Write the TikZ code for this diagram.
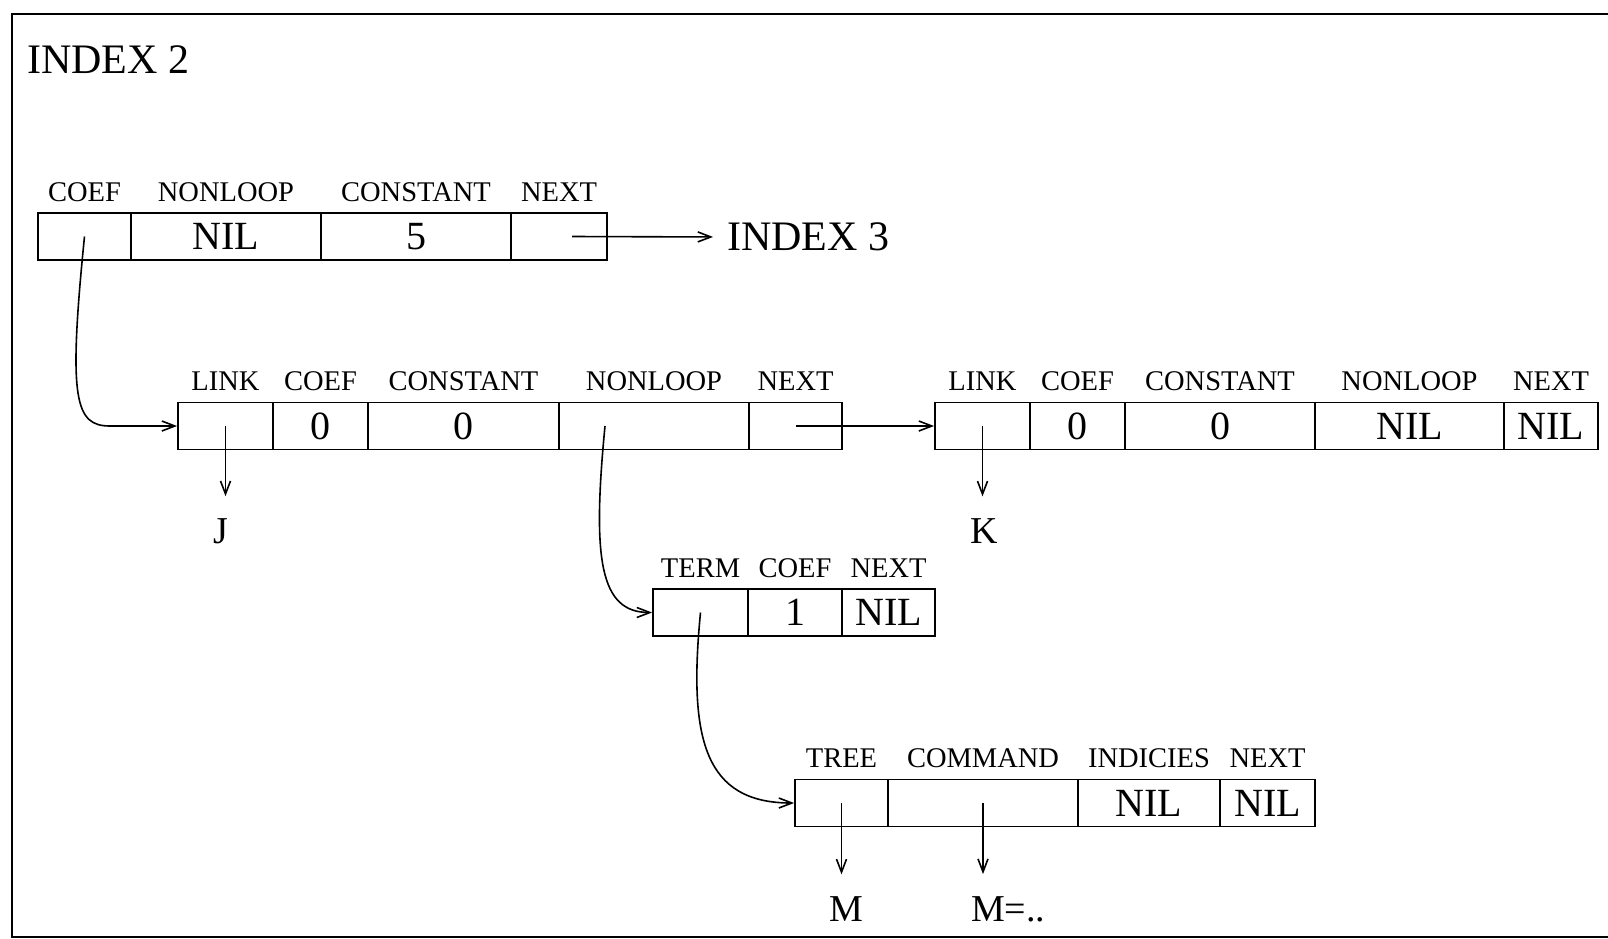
\documentclass[tikz,border=0pt]{standalone}
\usepackage{fontspec}
\setmainfont{Liberation Serif}
\usetikzlibrary{arrows.meta}

\begin{document}
\begin{tikzpicture}[x=1pt, y=-1pt, cell/.style={draw, rectangle, line width=1.9pt, minimum height=47, inner sep=0, font=\fontsize{40}{44}\selectfont}, every label/.style={font=\fontsize{28.5}{30}\selectfont, inner sep=0, yshift=10.5pt}, big/.style={font=\fontsize{42}{46}\selectfont, inner sep=0}, tgt/.style={font=\fontsize{38}{42}\selectfont, inner sep=0}, ptr/.style={-{Straight Barb[length=13pt, width=10pt]}, line width=1.6pt}]
		\useasboundingbox (0,0) rectangle (1608,938);
		\draw[line width=2pt] (1615,14) -- (12,14) -- (12,937) -- (1615,937);

		\node[big, anchor=west] (idx2) at (27,60) {INDEX 2};
		\node[big, anchor=west] (idx3) at (727,237) {INDEX 3};

		\node[cell, minimum width=93, label=above:{COEF}] (a1) at (84.5,236.5) {};
		\node[cell, minimum width=190, label=above:{NONLOOP}] (a2) at (226,236.5) {NIL};
		\node[cell, minimum width=190, label=above:{CONSTANT}] (a3) at (416,236.5) {5};
		\node[cell, minimum width=96, label=above:{NEXT}] (a4) at (559,236.5) {};

		\node[cell, minimum width=95, label=above:{LINK}] (b1) at (225.5,426) {};
		\node[cell, minimum width=95, label=above:{COEF}] (b2) at (320.5,426) {0};
		\node[cell, minimum width=191, label=above:{CONSTANT}] (b3) at (463.5,426) {0};
		\node[cell, minimum width=190, label=above:{NONLOOP}] (b4) at (654,426) {};
		\node[cell, minimum width=93, label=above:{NEXT}] (b5) at (795.5,426) {};

		\node[cell, minimum width=95, label=above:{LINK}] (c1) at (982.5,426) {};
		\node[cell, minimum width=95, label=above:{COEF}] (c2) at (1077.5,426) {0};
		\node[cell, minimum width=190, label=above:{CONSTANT}] (c3) at (1220,426) {0};
		\node[cell, minimum width=189, label=above:{NONLOOP}] (c4) at (1409.5,426) {NIL};
		\node[cell, minimum width=94, label=above:{NEXT}] (c5) at (1551,426) {NIL};

		\node[cell, minimum width=95, label=above:{TERM}] (d1) at (700.5,612.5) {};
		\node[cell, minimum width=94, label=above:{COEF}] (d2) at (795,612.5) {1};
		\node[cell, minimum width=93, label=above:{NEXT}] (d3) at (888.5,612.5) {NIL};

		\node[cell, minimum width=93, label=above:{TREE}] (e1) at (841.5,803) {};
		\node[cell, minimum width=190, label=above:{COMMAND}] (e2) at (983,803) {};
		\node[cell, minimum width=142, label=above:{INDICIES}] (e3) at (1149,803) {NIL};
		\node[cell, minimum width=95, label=above:{NEXT}] (e4) at (1267.5,803) {NIL};

		\node[tgt] (j) at (221,531) {J};
		\node[tgt] (k) at (984,531) {K};
		\node[tgt] (m) at (846,909) {M};
		\node[tgt, anchor=west] (mcmd) at (971,909) {M=..};

		\draw[ptr, shorten >=14pt] ([xshift=13pt]a4.center) -- (idx3.west);
		\draw[ptr] (a1.center) .. controls (68,400) and (75,426) .. (110,426) -- (b1.west);
		\draw[ptr, shorten >=22pt] (b1.center) -- (b1.center |- j.north);
		\draw[ptr] ([xshift=-49pt]b4.center) .. controls (592,560) and (600,612.5) .. (d1.west);
		\draw[ptr] (b5.center) -- (c1.west);
		\draw[ptr, shorten >=22pt] (c1.center) -- (c1.center |- k.north);
		\draw[ptr] (d1.center) .. controls (688,740) and (705,803) .. (e1.west);
		\draw[ptr, shorten >=22pt] (e1.center) -- (e1.center |- m.north);
		\draw[ptr, shorten >=22pt] (e2.center) -- (e2.center |- mcmd.north);
	\end{tikzpicture}
\end{document}
